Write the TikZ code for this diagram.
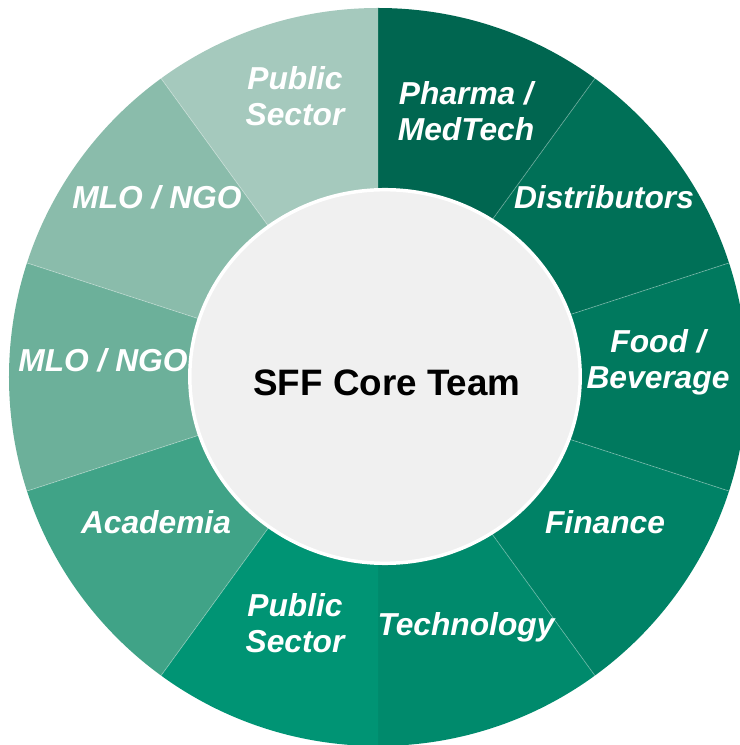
\documentclass[tikz,border=0pt]{standalone}
\usepackage{fontspec}
\setmainfont{Liberation Sans}
\usetikzlibrary{shapes.geometric}
\definecolor{cPharma}{RGB}{0,102,80}
\definecolor{cDist}{RGB}{0,112,87}
\definecolor{cFood}{RGB}{0,121,94}
\definecolor{cFin}{RGB}{0,130,102}
\definecolor{cTech}{RGB}{0,138,108}
\definecolor{cPubB}{RGB}{0,148,116}
\definecolor{cAcad}{RGB}{64,163,135}
\definecolor{cMloL}{RGB}{108,176,154}
\definecolor{cMloU}{RGB}{138,188,171}
\definecolor{cPubT}{RGB}{165,201,189}
\definecolor{cCore}{RGB}{240,240,240}
\tikzset{
  seglabel/.style={text=white, font=\fontsize{23.8}{27}\selectfont\bfseries\itshape, align=center, inner sep=0pt},
  oneline/.style={text height=0.716em, text depth=0pt},
  sepline/.style={draw=white, draw opacity=0.3, line width=0.6pt},
}
\begin{document}
\begin{tikzpicture}[x=0.75pt,y=0.75pt]
\useasboundingbox (-378,-368) rectangle (361,377);
\begin{scope}
\clip (0,0) circle[radius=276.75pt];
\fill[cPharma] (0,0) -- (54:1000) -- (90:1000) -- cycle;
\fill[cDist] (0,0) -- (18:1000) -- (54:1000) -- cycle;
\fill[cFood] (0,0) -- (-18:1000) -- (18:1000) -- cycle;
\fill[cFin] (0,0) -- (-54:1000) -- (-18:1000) -- cycle;
\fill[cTech] (0,0) -- (-90:1000) -- (-54:1000) -- cycle;
\fill[cPubB] (0,0) -- (-126:1000) -- (-90:1000) -- cycle;
\fill[cAcad] (0,0) -- (-162:1000) -- (-126:1000) -- cycle;
\fill[cMloL] (0,0) -- (162:1000) -- (198:1000) -- cycle;
\fill[cMloU] (0,0) -- (126:1000) -- (162:1000) -- cycle;
\fill[cPubT] (0,0) -- (90:1000) -- (126:1000) -- cycle;
\foreach \a in {18,54,126,162,198,234,306,342}
  \draw[sepline] (0,0) -- (\a:400);
\end{scope}
\node[draw=white, line width=2.6pt, fill=cCore, ellipse, minimum width=292.8pt, minimum height=280.2pt, inner sep=0pt] (core) at (7,0.5) {};
\node[font=\fontsize{27.6}{32}\selectfont\bfseries, text=black, inner sep=0pt, oneline] (coretxt) at (9,-14) {SFF Core Team};
\node[seglabel] (pubt) at (-83,281) {Public\\Sector};
\node[seglabel] (pharma) at (88,266) {Pharma /\\MedTech};
\node[seglabel, oneline] (dist) at (226,173) {Distributors};
\node[seglabel] (food) at (280,14.5) {Food /\\Beverage};
\node[seglabel, oneline] (fin) at (227,-152) {Finance};
\node[seglabel, oneline] (tech) at (88,-254) {Technology};
\node[seglabel] (pubb) at (-83,-246) {Public\\Sector};
\node[seglabel, oneline] (acad) at (-222,-152) {Academia};
\node[seglabel, oneline] (mlol) at (-275,10) {MLO / NGO};
\node[seglabel, oneline] (mlou) at (-221,173) {MLO / NGO};
\end{tikzpicture}
\end{document}
